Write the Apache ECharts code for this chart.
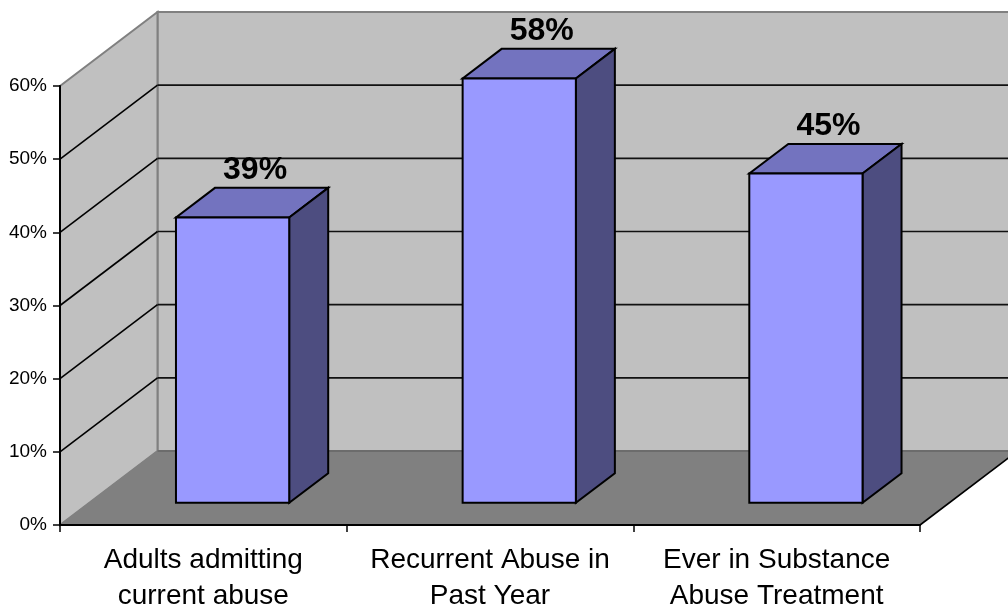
<!DOCTYPE html>
<html>
<head>
<meta charset="utf-8">
<style>html,body{margin:0;padding:0;background:#fff}#chart{width:1008px;height:608px}</style>
<script src="https://cdn.jsdelivr.net/npm/echarts@6/dist/echarts.min.js"></script>
</head>
<body>
<div id="chart"></div>
<script>
// Share of respondents per category, in percent.
const categories = ['Adults admitting\ncurrent abuse', 'Recurrent Abuse in\nPast Year', 'Ever in Substance\nAbuse Treatment'];
const values = [39, 58, 45];
const gridValues = [0, 10, 20, 30, 40, 50, 60];

// Oblique projection: full depth of the plot box, and where the bars sit inside it.
const DEPTH_X = 97.5, DEPTH_Y = -74;
const BAR_NEAR = 0.3, BAR_FAR = 0.7, BAR_WIDTH = 0.395;

const poly = (points, fill, stroke, lineWidth) => ({
  type: 'polygon',
  shape: { points },
  style: { fill, stroke: stroke || null, lineWidth: lineWidth || 0 }
});
const seg = (a, b, stroke, lineWidth) => ({
  type: 'line',
  shape: { x1: a[0], y1: a[1], x2: b[0], y2: b[1] },
  style: { stroke, lineWidth }
});

// Walls, floor and the grid lines that wrap around them.
function renderBox(params, api) {
  const c = params.coordSys;
  const l = c.x, r = c.x + c.width, t = c.y, b = c.y + c.height;
  const dx = DEPTH_X, dy = DEPTH_Y;
  const kids = [
    poly([[l + dx, t + dy], [r + dx, t + dy], [r + dx, b + dy], [l + dx, b + dy]], '#c0c0c0', '#808080', 2),
    poly([[l, t], [l + dx, t + dy], [l + dx, b + dy], [l, b]], '#c0c0c0', '#808080', 2),
    poly([[l, b], [r, b], [r + dx, b + dy], [l + dx, b + dy]], '#808080', '#808080', 1),
    seg([r, b], [r + dx, b + dy], '#000', 1.6),
    seg([l + dx, b + dy], [r + dx, b + dy], '#666', 1.6)
  ];
  gridValues.forEach(v => {
    if (v === 0) return;
    const y = api.coord([0, v])[1];
    if (v < 60) kids.push(seg([l, y], [l + dx, y + dy], '#000', 1.6));
    kids.push(seg([l + dx, y + dy], [r + dx, y + dy], v === 60 ? '#808080' : '#111', v === 60 ? 2 : 1.6));
  });
  return { type: 'group', children: kids };
}

// One oblique box per value, with its value written above the top face.
function renderBar(params, api) {
  const i = api.value(0), v = api.value(1);
  const top = api.coord([i, v]), base = api.coord([i, 0]);
  const band = api.size([1, 0])[0];
  const half = band * BAR_WIDTH / 2;
  const nx = DEPTH_X * BAR_NEAR, ny = DEPTH_Y * BAR_NEAR;
  const fx = DEPTH_X * (BAR_FAR - BAR_NEAR), fy = DEPTH_Y * (BAR_FAR - BAR_NEAR);
  const x0 = top[0] - half + nx, x1 = top[0] + half + nx;
  const yt = top[1] + ny, yb = base[1] + ny;
  const edge = '#000';
  return {
    type: 'group',
    children: [
      poly([[x0, yt], [x1, yt], [x1 + fx, yt + fy], [x0 + fx, yt + fy]], '#7373bf', edge, 2),
      poly([[x1, yt], [x1 + fx, yt + fy], [x1 + fx, yb + fy], [x1, yb]], '#4d4d80', edge, 2),
      poly([[x0, yt], [x1, yt], [x1, yb], [x0, yb]], '#9999ff', edge, 2),
      {
        type: 'text',
        style: {
          x: top[0] + nx + fx / 2 + 3,
          y: yt + fy - 18,
          text: v + '%',
          fill: '#000',
          font: 'bold 32px "Liberation Sans", Arial, sans-serif',
          align: 'center',
          verticalAlign: 'middle'
        }
      }
    ]
  };
}

const chart = echarts.init(document.getElementById('chart'), null, { renderer: 'canvas' });
chart.setOption({
  animation: false,
  backgroundColor: '#ffffff',
  grid: { left: 60, top: 86, width: 860, height: 439, outerBoundsMode: 'none' },
  xAxis: {
    type: 'category',
    data: categories,
    z: 10,
    axisLine: { lineStyle: { color: '#000', width: 2 } },
    axisTick: { show: true, alignWithLabel: false, length: 7, lineStyle: { color: '#000', width: 1.5 } },
    axisLabel: {
      color: '#000',
      fontFamily: '"Liberation Sans", Arial, sans-serif',
      fontSize: 28,
      lineHeight: 36,
      margin: 17,
      interval: 0
    }
  },
  yAxis: {
    type: 'value',
    min: 0,
    max: 60,
    interval: 10,
    z: 10,
    splitLine: { show: false },
    axisLine: { show: true, lineStyle: { color: '#000', width: 2 } },
    axisTick: { show: true, length: 7, lineStyle: { color: '#000', width: 1.5 } },
    axisLabel: {
      color: '#000',
      fontFamily: '"Liberation Sans", Arial, sans-serif',
      fontSize: 19,
      margin: 13,
      formatter: '{value}%'
    }
  },
  series: [
    { type: 'custom', z: 1, clip: false, silent: true, renderItem: renderBox, data: [[0, 0]] },
    { type: 'custom', z: 2, clip: false, renderItem: renderBar, data: values.map((v, i) => [i, v]) }
  ]
});
</script>
</body>
</html>
